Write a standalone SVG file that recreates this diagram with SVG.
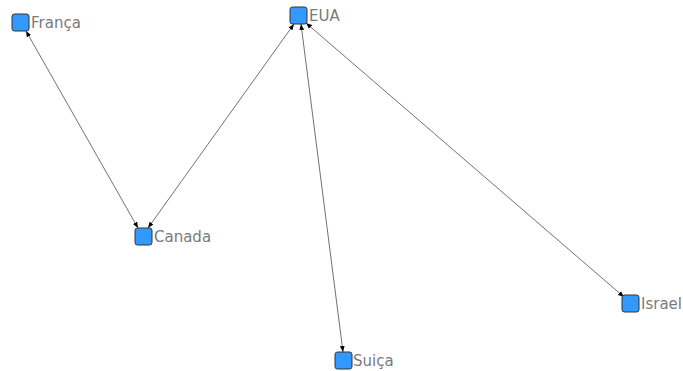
<svg xmlns="http://www.w3.org/2000/svg" width="683" height="371" viewBox="0 0 683 371">
<defs>
<marker id="ah" viewBox="0 0 10 10" refX="10" refY="5" markerWidth="6" markerHeight="6" orient="auto-start-reverse" markerUnits="userSpaceOnUse">
<path d="M0,1 L10,5 L0,9 z" fill="#000"/>
</marker>
<style>
.n rect{fill:#3399ff;stroke:#333;stroke-width:1}
.n text{font-family:"DejaVu Sans","Liberation Sans",sans-serif;font-size:15px;fill:#7a7a7a}
.e line{stroke:#333;stroke-width:0.7;marker-start:url(#ah);marker-end:url(#ah)}
</style>
</defs>
<rect width="683" height="371" fill="#fff"/>
<g id="edges" class="e">
<line x1="26" y1="31" x2="138" y2="228"/>
<line x1="294" y1="24" x2="148" y2="228"/>
<line x1="301" y1="24" x2="343" y2="352"/>
<line x1="306" y1="23" x2="624" y2="297"/>
</g>
<g id="franca" class="n"><rect x="12" y="14" width="17" height="17" rx="2.5"/><text x="31" y="28">França</text></g>
<g id="eua" class="n"><rect x="290" y="7" width="17" height="17" rx="2.5"/><text x="309" y="21">EUA</text></g>
<g id="canada" class="n"><rect x="135" y="228" width="17" height="17" rx="2.5"/><text x="154" y="242">Canada</text></g>
<g id="suica" class="n"><rect x="335" y="352" width="17" height="17" rx="2.5"/><text x="353" y="366">Suiça</text></g>
<g id="israel" class="n"><rect x="622" y="295" width="17" height="17" rx="2.5"/><text x="641" y="309">Israel</text></g>
</svg>
